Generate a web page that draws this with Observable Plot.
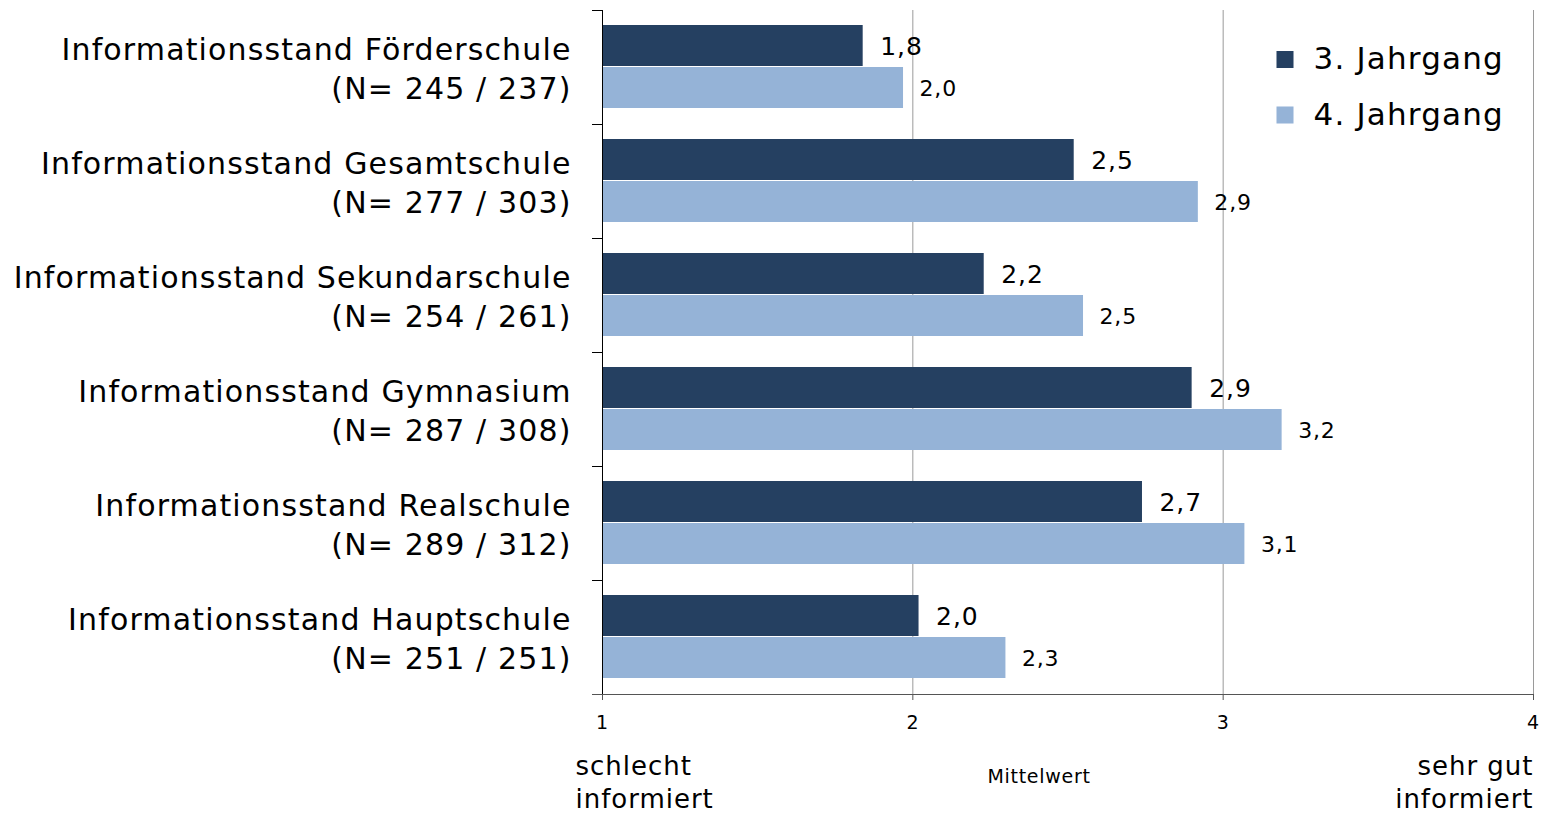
<!DOCTYPE html>
<html>
<head>
<meta charset="utf-8">
<script src="https://cdn.jsdelivr.net/npm/d3@7"></script>
<script src="https://cdn.jsdelivr.net/npm/@observablehq/plot@0.6"></script>
<style>
  html, body { margin: 0; padding: 0; background: #fff; }
  #chart { width: 1545px; height: 815px; }
  #chart svg text { letter-spacing: 0.038em; }
</style>
</head>
<body>
<div id="chart"></div>
<script>
const schools = ["Förderschule", "Gesamtschule", "Sekundarschule", "Gymnasium", "Realschule", "Hauptschule"];
const nLabels = ["(N= 245 / 237)", "(N= 277 / 303)", "(N= 254 / 261)", "(N= 287 / 308)", "(N= 289 / 312)", "(N= 251 / 251)"];
const series = ["3. Jahrgang", "4. Jahrgang"];
const values3 = [1.84, 2.52, 2.23, 2.90, 2.74, 2.02];
const values4 = [1.97, 2.92, 2.55, 3.19, 3.07, 2.30];
const xTicks = [1, 2, 3, 4];
const colors = ["#254061", "#95B3D7"];

const categories = schools.map((s, i) => `Informationsstand ${s}\n${nLabels[i]}`);
const rows3 = categories.map((c, i) => ({cat: c, series: series[0], value: values3[i]}));
const rows4 = categories.map((c, i) => ({cat: c, series: series[1], value: values4[i]}));
const fmt = v => d3.format(".1f")(v).replace(".", ",");
const font = "DejaVu Sans, Verdana, sans-serif";

const legendMarks = series.flatMap((s, i) => [
  Plot.dot([s], {frameAnchor: "top-right", dx: -248.5, dy: 49 + i * 55.5, symbol: "square", r: 9.6, fill: colors[i], stroke: "none"}),
  Plot.text([s], {frameAnchor: "top-right", text: d => d, textAnchor: "start", lineAnchor: "middle", dx: -220, dy: 49 + i * 55.5, fontSize: 31, fill: "#000"})
]);

const chart = Plot.plot({
  width: 1545,
  height: 815,
  marginLeft: 602,
  marginRight: 12,
  marginTop: 10,
  marginBottom: 121,
  style: {fontFamily: font, background: "#fff", color: "#000"},
  x: {domain: [1, 4], axis: null},
  y: {domain: categories, padding: 0, axis: null},
  color: {domain: series, range: colors},
  marks: [
    Plot.gridX(xTicks.slice(1), {stroke: "#9a9a9a", strokeOpacity: 1, strokeWidth: 1}),
    Plot.barX(rows3, {x1: 1, x2: "value", y: "cat", fill: "series", insetTop: 15, insetBottom: 58}),
    Plot.barX(rows4, {x1: 1, x2: "value", y: "cat", fill: "series", insetTop: 57, insetBottom: 16}),
    Plot.text(rows3, {x: "value", y: "cat", text: d => fmt(d.value), textAnchor: "start", dx: 17, dy: -20.5, fontSize: 25, fill: "#000"}),
    Plot.text(rows4, {x: "value", y: "cat", text: d => fmt(d.value), textAnchor: "start", dx: 16, dy: 21.5, fontSize: 22, fill: "#000"}),
    Plot.text(categories, {y: d => d, text: d => d, frameAnchor: "left", textAnchor: "end", dx: -31, fontSize: 30, lineHeight: 1.3, fill: "#000"}),
    Plot.axisY({tickSize: 10, tickFormat: null, label: null, dy: -57, stroke: "#000"}),
    Plot.ruleY([categories[categories.length - 1]], {y: d => d, dy: 57, insetLeft: -10, stroke: "#555"}),
    Plot.ruleX([1], {stroke: "#000"}),
    Plot.axisX({ticks: xTicks, tickSize: 6, tickPadding: 15, fontSize: 19, label: null, tickFormat: d => d, stroke: "#555"}),
    Plot.text(["schlecht\ninformiert"], {frameAnchor: "bottom-left", text: d => d, textAnchor: "start", lineAnchor: "top", dx: -27, dy: 57, fontSize: 26, lineHeight: 1.28, fill: "#000"}),
    Plot.text(["sehr gut\ninformiert"], {frameAnchor: "bottom-right", text: d => d, textAnchor: "end", lineAnchor: "top", dy: 57, fontSize: 26, lineHeight: 1.28, fill: "#000"}),
    Plot.text(["Mittelwert"], {frameAnchor: "bottom", text: d => d, textAnchor: "middle", lineAnchor: "top", dx: -29, dy: 74.5, fontSize: 19, fill: "#000"}),
    ...legendMarks
  ]
});
document.getElementById("chart").appendChild(chart);
</script>
</body>
</html>
